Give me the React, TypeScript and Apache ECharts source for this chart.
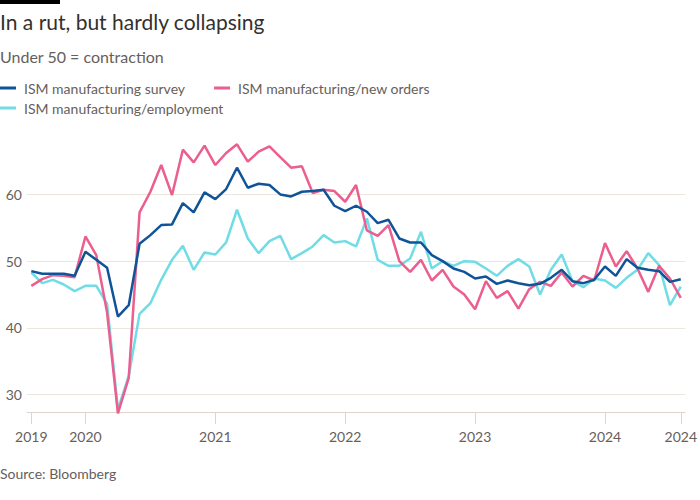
import React, { useEffect, useRef } from "react";
import * as echarts from "echarts";

// Monthly, Aug 2019 – Aug 2024 (61 months), index 0..60
const survey = [
  48.5, 48.1, 48.1, 48.1, 47.8, 51.4, 50.2, 49.0, 41.7, 43.4,
  52.6, 53.9, 55.4, 55.5, 58.7, 57.3, 60.3, 59.3, 60.8, 64.0,
  61.0, 61.6, 61.4, 60.0, 59.7, 60.4, 60.5, 60.7, 58.3, 57.5,
  58.3, 57.4, 55.7, 56.2, 53.4, 52.8, 52.8, 50.9, 50.0, 48.9,
  48.4, 47.4, 47.7, 46.6, 47.1, 46.7, 46.4, 46.6, 47.5, 48.7,
  47.0, 46.7, 47.2, 49.2, 47.8, 50.3, 49.0, 48.7, 48.5, 46.9,
  47.3,
];
const newOrders = [
  46.3, 47.3, 47.9, 47.8, 47.6, 53.7, 50.9, 42.3, 27.2, 32.5,
  57.3, 60.4, 64.4, 59.9, 66.7, 64.8, 67.3, 64.4, 66.2, 67.5,
  64.9, 66.4, 67.2, 65.6, 64.0, 64.2, 60.2, 60.7, 60.5, 58.9,
  61.4, 54.6, 53.8, 55.4, 50.0, 48.4, 50.2, 47.1, 48.7, 46.2,
  45.0, 42.8, 47.0, 44.5, 45.5, 42.9, 45.8, 46.9, 46.3, 48.3,
  46.2, 47.8, 47.1, 52.7, 49.2, 51.5, 48.9, 45.4, 49.3, 47.4,
  44.5,
];
const employment = [
  48.3, 46.7, 47.2, 46.5, 45.5, 46.3, 46.3, 43.6, 27.8, 32.8,
  42.1, 43.7, 47.2, 50.2, 52.3, 48.7, 51.3, 51.0, 52.8, 57.7,
  53.4, 51.2, 53.0, 53.8, 50.3, 51.2, 52.2, 53.9, 52.8, 53.0,
  52.2, 56.4, 50.2, 49.3, 49.3, 50.4, 54.4, 48.9, 50.0, 49.3,
  50.0, 49.9, 48.9, 47.8, 49.3, 50.3, 49.2, 45.0, 48.7, 51.0,
  47.0, 46.1, 47.4, 47.1, 46.0, 47.5, 48.7, 51.2, 49.4, 43.4,
  46.2,
];
const xTickIndex = [0, 5, 17, 29, 41, 53, 60];
const xTickLabels = ["2019", "2020", "2021", "2022", "2023", "2024", "2024"];
const yTicks = [30, 40, 50, 60];
const seriesNames = [
  "ISM manufacturing survey",
  "ISM manufacturing/new orders",
  "ISM manufacturing/employment",
];

const FONT = "Lato, 'Noto Sans', sans-serif";
const GREY = "#66605c";

export default function App() {
  const ref = useRef<HTMLDivElement>(null);
  useEffect(() => {
    document.body.style.margin = "0";
    const chart = echarts.init(ref.current!, null, { renderer: "svg" });
    const toPairs = (arr: number[]) => arr.map((v, i) => [i, v]);
    chart.setOption({
      animation: false,
      backgroundColor: "#ffffff",
      textStyle: { fontFamily: FONT },
      graphic: [
        { type: "rect", left: 0, top: 0, shape: { width: 60, height: 4 }, style: { fill: "#000000" } },
        {
          type: "text", left: 0, top: 11,
          style: { text: "In a rut, but hardly collapsing", fill: "#33302e", font: `21px ${FONT}` },
        },
        {
          type: "text", left: 0, top: 48,
          style: { text: "Under 50 = contraction", fill: GREY, font: `16px ${FONT}` },
        },
        {
          type: "text", left: 0, top: 466,
          style: { text: "Source: Bloomberg", fill: GREY, font: `14px ${FONT}` },
        },
      ],
      legend: [
        {
          data: [seriesNames[0], seriesNames[1]],
          left: 0, top: 80, padding: 0, itemGap: 29,
          icon: "rect", itemWidth: 16, itemHeight: 3,
          textStyle: { color: GREY, fontSize: 14, fontFamily: FONT, padding: [0, 0, 0, 3], lineHeight: 16 },
        },
        {
          data: [seriesNames[2]],
          left: 0, top: 100, padding: 0,
          icon: "rect", itemWidth: 16, itemHeight: 3,
          textStyle: { color: GREY, fontSize: 14, fontFamily: FONT, padding: [0, 0, 0, 3], lineHeight: 16 },
        },
      ],
      grid: { left: 27, right: 14, top: 141, bottom: 88 },
      xAxis: {
        type: "value",
        min: -0.4,
        max: 60.4,
        axisLine: { show: true, lineStyle: { color: "#ddd5cc", width: 1 } },
        axisTick: {
          show: true, length: 12, customValues: xTickIndex,
          lineStyle: { color: "#ddd5cc", width: 1 },
        },
        axisLabel: {
          customValues: xTickIndex,
          margin: 17,
          color: GREY,
          fontSize: 14,
          fontFamily: FONT,
          formatter: (v: number) => {
            const k = xTickIndex.indexOf(Math.round(v));
            return k >= 0 ? xTickLabels[k] : "";
          },
        },
        splitLine: { show: false },
      },
      yAxis: {
        type: "value",
        min: 27.4,
        max: 68,
        splitNumber: 4,
        axisLine: { show: false },
        axisTick: { show: false, customValues: yTicks },
        axisLabel: {
          customValues: yTicks,
          color: GREY, fontSize: 14, fontFamily: FONT, margin: 5,
        },
        splitLine: {
          show: true,
          lineStyle: { color: "#ece6e0", width: 1 },
        },
      },
      series: [
        {
          name: seriesNames[2], type: "line", data: toPairs(employment), showSymbol: false,
          clip: false, lineStyle: { color: "#70dce6", width: 2.5 }, itemStyle: { color: "#70dce6" }, z: 2,
        },
        {
          name: seriesNames[1], type: "line", data: toPairs(newOrders), showSymbol: false,
          clip: false, lineStyle: { color: "#eb5e8d", width: 2.5 }, itemStyle: { color: "#eb5e8d" }, z: 3,
        },
        {
          name: seriesNames[0], type: "line", data: toPairs(survey), showSymbol: false,
          clip: false, lineStyle: { color: "#0f5499", width: 2.5 }, itemStyle: { color: "#0f5499" }, z: 4,
        },
      ],
    });
    return () => chart.dispose();
  }, []);
  return <div ref={ref} style={{ width: 700, height: 500, position: "absolute", left: 0, top: 0 }} />;
}
